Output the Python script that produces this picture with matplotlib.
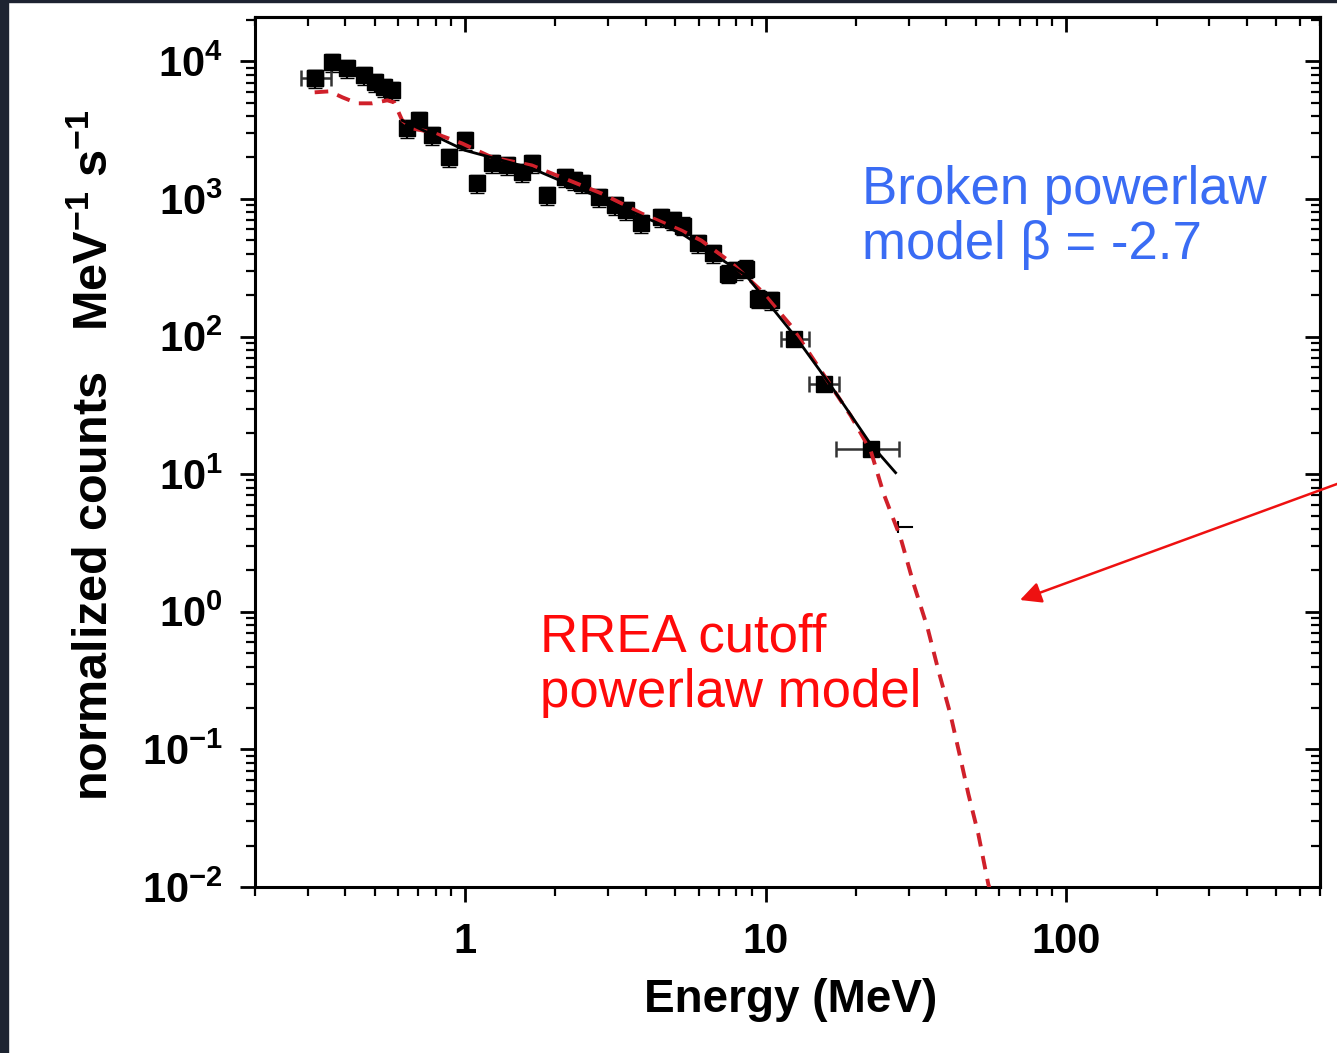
import numpy as np
import matplotlib
matplotlib.use('Agg')
import matplotlib.pyplot as plt
from matplotlib.ticker import LogLocator, FuncFormatter, NullFormatter
from matplotlib.patches import Rectangle

plt.rcParams['font.family'] = ['Liberation Sans', 'DejaVu Sans']
plt.rcParams['mathtext.fontset'] = 'custom'
plt.rcParams['mathtext.rm'] = 'Liberation Sans:bold'
plt.rcParams['mathtext.it'] = 'Liberation Sans:bold'
plt.rcParams['mathtext.bf'] = 'Liberation Sans:bold'
plt.rcParams['mathtext.default'] = 'rm'

# measured spectrum (MeV, counts)
energy = [0.316, 0.362, 0.406, 0.462, 0.503, 0.539, 0.573, 0.642, 0.704, 0.777,
          0.885, 1.0, 1.096, 1.229, 1.378, 1.546, 1.668, 1.871, 2.147, 2.299,
          2.444, 2.783, 3.145, 3.446, 3.865, 4.501, 4.934, 5.326, 5.971, 6.698,
          7.508, 7.98, 8.614, 9.443, 10.43]
counts = [7520, 9830, 8890, 7910, 7040, 6470, 6150, 3260, 3720, 2900,
          2000, 2665, 1297, 1812, 1753, 1560, 1812, 1061, 1433, 1363,
          1297, 1025, 897, 825, 663, 734, 698, 641, 475, 402,
          287, 302, 312, 189, 183]
y_err_frac = 0.15

# wide high-energy bins
wide_e = [0.316, 12.43, 15.63, 22.39]
wide_c = [7520, 96.7, 45.5, 15.3]
wide_lo = [0.284, 11.26, 13.94, 17.13]
wide_hi = [0.357, 13.94, 17.53, 27.72]

# upper-limit stub
lim_e = [27.5, 30.8]
lim_c = [4.1, 4.1]

# broken powerlaw model
bpl_e = [0.618, 1.0, 1.668, 2.847, 5.245, 8.614, 12.63, 16.49, 22.39, 27.09]
bpl_c = [3720, 2254, 1667, 1008, 561, 278, 98.4, 44.0, 16.5, 10.25]

# RREA cutoff powerlaw model
rrea_e = [0.316, 0.354, 0.391, 0.438, 0.491, 0.551, 0.581, 0.618, 0.667, 0.777,
          0.977, 1.229, 1.668, 2.098, 2.847, 3.865, 5.245, 6.11, 7.68, 9.66,
          12.15, 15.28, 19.21, 22.39, 24.72, 28.14, 31.09, 34.6, 37.63, 41.2,
          44.5, 47.3, 51.05, 55.1, 56.8]
rrea_c = [5950, 6050, 5470, 4950, 4950, 5205, 5035, 3720, 3258, 3045,
          2533, 2004, 1752, 1433, 1096, 784, 590, 499, 345, 216,
          120, 56.6, 26.6, 14.8, 7.21, 3.45, 1.598, 0.765, 0.3724, 0.1812,
          0.0867, 0.0475, 0.0243, 0.01052, 0.0085]

fig = plt.figure(figsize=(13.37, 10.53), dpi=100)
fig.patches.append(Rectangle((0, 0), 8 / 1337, 1, transform=fig.transFigure,
                             color='#1d2331', zorder=0))
fig.patches.append(Rectangle((0, 1 - 2 / 1053), 1, 2 / 1053, transform=fig.transFigure,
                             color='#1d2331', zorder=0))

ax = fig.add_axes([0.1907, 0.1576, 0.7966, 0.8263])
ax.set_xscale('log')
ax.set_yscale('log')
ax.set_xlim(0.2, 700)
ax.set_ylim(0.01, 2.1e4)

counts_a = np.array(counts)
ax.errorbar(energy, counts, yerr=counts_a * y_err_frac, fmt='s', color='black',
            ms=11.5, elinewidth=1.6, capsize=5, zorder=2)
ax.errorbar(wide_e, wide_c,
            xerr=[np.array(wide_e) - np.array(wide_lo), np.array(wide_hi) - np.array(wide_e)],
            fmt='s', color='black', ecolor='#333333', ms=11.5, elinewidth=1.8,
            capsize=6, capthick=1.8, zorder=2)
ax.plot(lim_e, lim_c, color='black', lw=1.5, zorder=2)
ax.plot(lim_e[0], lim_c[0], marker='|', ms=9, mew=1.5, color='black', zorder=2)

ax.plot(rrea_e, rrea_c, color='#d0202a', lw=2.8, dashes=(3.5, 2.5), zorder=3)
ax.plot(bpl_e, bpl_c, color='black', lw=2, zorder=4)

# ticks: outward on bottom/left, inward on top/right
ax.xaxis.set_major_locator(LogLocator(base=10, numticks=20))
ax.xaxis.set_minor_locator(LogLocator(base=10, subs=np.arange(2, 10), numticks=20))
ax.yaxis.set_major_locator(LogLocator(base=10, numticks=20))
ax.yaxis.set_minor_locator(LogLocator(base=10, subs=np.arange(2, 10), numticks=20))
ax.xaxis.set_minor_formatter(NullFormatter())
ax.yaxis.set_minor_formatter(NullFormatter())
ax.xaxis.set_major_formatter(FuncFormatter(lambda v, p: '%g' % v))
ax.yaxis.set_major_formatter(FuncFormatter(lambda v, p: '$10^{%d}$' % round(np.log10(v))))
ax.tick_params(which='major', direction='out', length=11, width=2, labelsize=30, pad=12)
ax.tick_params(which='minor', direction='out', length=6.5, width=1.6)
ax.tick_params(axis='x', which='major', pad=14)
for lab in ax.get_xticklabels() + ax.get_yticklabels():
    lab.set_fontweight('bold')
for s in ax.spines.values():
    s.set_linewidth(2.2)

secx = ax.secondary_xaxis('top')
secy = ax.secondary_yaxis('right')
for sec, axis in [(secx, secx.xaxis), (secy, secy.yaxis)]:
    axis.set_major_locator(LogLocator(base=10, numticks=20))
    axis.set_minor_locator(LogLocator(base=10, subs=np.arange(2, 10), numticks=20))
    axis.set_major_formatter(NullFormatter())
    axis.set_minor_formatter(NullFormatter())
    sec.tick_params(which='major', direction='in', length=11, width=2)
    sec.tick_params(which='minor', direction='in', length=6.5, width=1.6)
    for s in sec.spines.values():
        s.set_linewidth(2.2)

fig.text(0.591, 0.050, 'Energy (MeV)', fontsize=33, fontweight='bold',
         ha='center', va='center')
fig.text(0.071, 0.568, 'normalized counts   MeV$^{-1}$ s$^{-1}$', fontsize=35,
         fontweight='bold', rotation=90, ha='center', va='center')

fig.text(0.6447, 0.843, 'Broken powerlaw\nmodel \u03b2 = -2.7', fontsize=38,
         color='#3a6cf4', ha='left', va='top', linespacing=1.12)
fig.text(0.4039, 0.418, 'RREA cutoff\npowerlaw model', fontsize=38,
         color='#ff0a0a', ha='left', va='top', linespacing=1.12)
ax.annotate('', xy=(0.7629, 0.4302), xycoords='figure fraction',
            xytext=(1.002, 0.5413), textcoords='figure fraction',
            arrowprops=dict(arrowstyle='-|>', mutation_scale=32, lw=1.8,
                            color='#ee1111', shrinkA=0, shrinkB=0),
            annotation_clip=False)

fig.savefig('out.png', dpi=100, facecolor='white')
